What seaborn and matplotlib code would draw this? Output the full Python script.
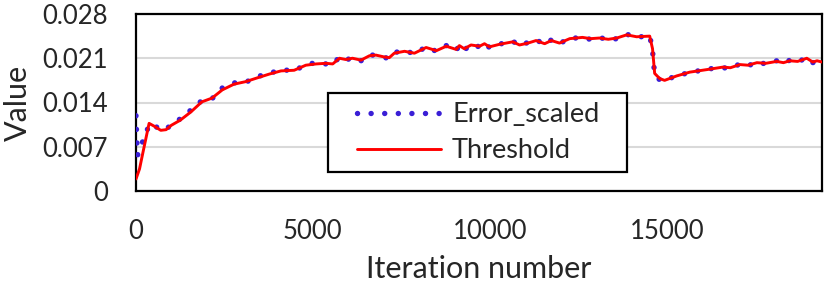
import pandas as pd
import numpy as np
import matplotlib
matplotlib.use("Agg")
import matplotlib.pyplot as plt
from matplotlib.patches import Rectangle
import seaborn as sns

# ── Data ────────────────────────────────────────────────────────────────────
thr_iter = [0, 100, 200, 370, 500, 700, 850, 1000, 1250, 1550, 1860, 2150,
            2440, 2770, 3100, 3430, 3770, 4100, 4470, 4800, 5090, 5370, 5560,
            5750, 5930, 6120, 6360, 6600, 6780, 7020, 7160, 7300, 7590, 7870,
            8200, 8490, 8770, 9050, 9140, 9280, 9470, 9710, 9850, 9990, 10270,
            10460, 10650, 10840, 11080, 11310, 11550, 11740, 11970, 12260,
            12620, 12850, 13100, 13350, 13590, 13870, 14150, 14520, 14600,
            14660, 14800, 14940, 15280, 15650, 16130, 16590, 16800, 17070,
            17300, 17550, 17800, 18110, 18300, 18480, 18700, 18960, 19130,
            19250, 19390]
thr_val = [0.0019, 0.0035, 0.0062, 0.0107, 0.0103, 0.0096, 0.0097, 0.0104,
           0.0112, 0.0125, 0.0141, 0.0147, 0.0160, 0.0169, 0.0173, 0.0179,
           0.0185, 0.0190, 0.0191, 0.0199, 0.0201, 0.0202, 0.0201, 0.0210,
           0.0208, 0.0210, 0.0207, 0.0214, 0.0215, 0.0212, 0.0211, 0.0218,
           0.0221, 0.0218, 0.0227, 0.0222, 0.0229, 0.0224, 0.0230, 0.0225,
           0.0231, 0.0229, 0.0233, 0.0228, 0.0232, 0.0234, 0.0236, 0.0231,
           0.0234, 0.0238, 0.0233, 0.0238, 0.0234, 0.0241, 0.0243, 0.0241,
           0.0242, 0.0240, 0.0242, 0.0247, 0.0244, 0.0245, 0.0225, 0.0186,
           0.0178, 0.0175, 0.0182, 0.0188, 0.0192, 0.0196, 0.0195, 0.0200,
           0.0199, 0.0203, 0.0202, 0.0205, 0.0203, 0.0206, 0.0205, 0.0210,
           0.0204, 0.0206, 0.0204]

err_iter = [0, 40, 130, 260, 380, 500, 700, 850, 1000, 1250, 1550, 1860,
            2150, 2440, 2770, 3100, 3430, 3770, 4100, 4470, 4800, 5090, 5370,
            5560, 5750, 5930, 6120, 6360, 6600, 6780, 7020, 7160, 7300, 7590,
            7870, 8200, 8490, 8770, 9050, 9140, 9280, 9470, 9710, 9850, 9990,
            10270, 10460, 10650, 10840, 11080, 11310, 11550, 11740, 11970,
            12260, 12620, 12850, 13100, 13350, 13590, 13870, 14150, 14520,
            14600, 14660, 14800, 14940, 15280, 15650, 16130, 16590, 16800,
            17070, 17300, 17550, 17800, 18110, 18300, 18480, 18700, 18960,
            19130, 19250, 19390]
err_val = [0.0119, 0.0056, 0.0070, 0.0088, 0.0106, 0.0104, 0.0097, 0.0097,
           0.0106, 0.0114, 0.0128, 0.0143, 0.0146, 0.0163, 0.0171, 0.0172,
           0.0181, 0.0186, 0.0192, 0.0190, 0.0200, 0.0203, 0.0201, 0.0200,
           0.0212, 0.0207, 0.0211, 0.0206, 0.0216, 0.0214, 0.0211, 0.0210,
           0.0219, 0.0222, 0.0217, 0.0228, 0.0221, 0.0230, 0.0222, 0.0231,
           0.0223, 0.0232, 0.0228, 0.0234, 0.0227, 0.0233, 0.0233, 0.0237,
           0.0230, 0.0235, 0.0239, 0.0232, 0.0239, 0.0233, 0.0242, 0.0242,
           0.0240, 0.0243, 0.0239, 0.0241, 0.0248, 0.0243, 0.0246, 0.0222,
           0.0184, 0.0176, 0.0174, 0.0183, 0.0187, 0.0193, 0.0195, 0.0194,
           0.0201, 0.0198, 0.0204, 0.0201, 0.0206, 0.0202, 0.0207, 0.0204,
           0.0211, 0.0203, 0.0207, 0.0203]

x_ticks = [0, 5000, 10000, 15000]
y_ticks = [0, 0.007, 0.014, 0.021, 0.028]
y_labels = ["0", "0.007", "0.014", "0.021", "0.028"]

err_df = pd.DataFrame({"iter": err_iter, "value": err_val})
thr_df = pd.DataFrame({"iter": thr_iter, "value": thr_val})

# ── Plot ────────────────────────────────────────────────────────────────────
sns.set_style("white")
plt.rcParams["font.family"] = ["Lato", "DejaVu Sans"]

W, H = 830, 287
fig = plt.figure(figsize=(W / 100, H / 100), dpi=100)
ax = fig.add_axes([136 / W, 1 - 191 / H, 686 / W, 177 / H])

ax.grid(axis="y", color="#d9d9d9", linewidth=1.5)
ax.set_axisbelow(True)

sns.lineplot(data=err_df, x="iter", y="value", ax=ax, color="#3a1fd6",
             linewidth=3.9, linestyle=(0, (0.01, 2.5)),
             dash_capstyle="round", label="Error_scaled", zorder=3)
sns.lineplot(data=thr_df, x="iter", y="value", ax=ax, color="#ff0000",
             linewidth=2.1, label="Threshold", zorder=4)

ax.set_xlim(0, 19390)
ax.set_ylim(0, 0.028)
ax.set_xticks(x_ticks)
ax.set_xticklabels([str(t) for t in x_ticks])
ax.set_yticks(y_ticks)
ax.set_yticklabels(y_labels)
ax.tick_params(axis="both", length=0, labelsize=18.5)
ax.tick_params(axis="x", pad=20)
ax.tick_params(axis="y", pad=20)

for sp in ax.spines.values():
    sp.set_color("black")
    sp.set_linewidth(1.6)

ax.set_xlabel("Iteration number", fontsize=22, labelpad=8)
ax.set_ylabel("Value", fontsize=22, labelpad=8)

# legend without its own frame; Excel-style box with wider side padding
leg = ax.legend(loc="center", bbox_to_anchor=(0.499, 0.33), fontsize=19.5,
                frameon=False, handlelength=3.1,
                borderpad=0.3, labelspacing=0.4, handletextpad=0.4)
leg.set_zorder(6)
box = Rectangle((328 / W, 1 - 172 / H), 299 / W, 79 / H,
                transform=fig.transFigure, facecolor="white",
                edgecolor="black", linewidth=1.6, zorder=5, clip_on=False)
ax.add_patch(box)

fig.savefig("out.png", dpi=100)
plt.close("all")
